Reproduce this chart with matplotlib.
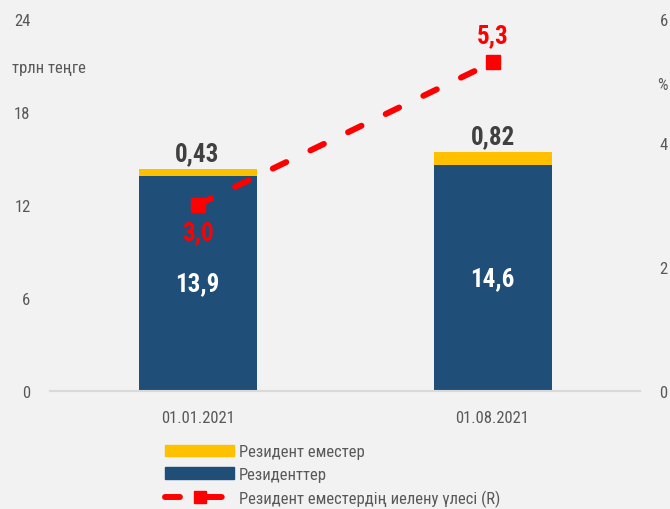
import matplotlib
matplotlib.use('Agg')
import matplotlib.pyplot as plt
import numpy as np
from matplotlib import font_manager
from matplotlib.lines import Line2D
from matplotlib.patches import Patch

# pick a narrow font if one is installed
installed = {f.name for f in font_manager.fontManager.ttflist}
narrow = [n for n in ['Roboto Condensed', 'Liberation Sans Narrow', 'Open Sans Condensed']
          if n in installed]
if narrow:
    plt.rcParams['font.family'] = [narrow[0], 'DejaVu Sans']
else:
    plt.rcParams['font.family'] = ['DejaVu Sans']
    if any(f.name == 'DejaVu Sans' and f.stretch == 'condensed' for f in font_manager.fontManager.ttflist):
        plt.rcParams['font.stretch'] = 'condensed'

dates = ['01.01.2021', '01.08.2021']
residents = [13.9, 14.6]
non_residents = [0.43, 0.82]
share = [3.0, 5.3]

res_labels = ['13,9', '14,6']
nonres_labels = ['0,43', '0,82']
share_labels = ['3,0', '5,3']

bg = '#f2f2f2'
blue = '#1f4e79'
yellow = '#ffc000'
red = '#ff0000'
gray = '#595959'
dash = (0, (2.5, 4.5))

fig = plt.figure(figsize=(6.7, 5.1), dpi=100, facecolor=bg)
ax = fig.add_axes([50 / 670, 1 - 392 / 510, 590 / 670, 372 / 510])
ax.set_facecolor(bg)
x = np.arange(len(dates))

ax.bar(x, residents, width=0.4, color=blue, zorder=2)
ax.bar(x, non_residents, width=0.4, bottom=residents, color=yellow, zorder=2)
ax.set_xlim(-0.5, 1.5)
ax.set_ylim(0, 24)
ax.set_yticks([0, 6, 12, 18, 24])
ax.set_xticks(x)
ax.set_xticklabels(dates)
for s in ['top', 'right', 'left']:
    ax.spines[s].set_visible(False)
ax.spines['bottom'].set_color('#d9d9d9')
ax.spines['bottom'].set_linewidth(1.5)
ax.tick_params(axis='both', length=0, colors=gray, labelsize=12)
ax.tick_params(axis='y', pad=14)
ax.tick_params(axis='x', pad=14)

for i in x:
    ax.text(i, residents[i] / 2, res_labels[i], color='white', fontsize=18,
            fontweight='bold', ha='center', va='center', zorder=4)
    ax.text(i, residents[i] + non_residents[i] + 0.25, nonres_labels[i], color='#404040',
            fontsize=18, fontweight='bold', ha='center', va='bottom', zorder=4)

ax2 = ax.twinx()
ax2.set_ylim(0, 6)
ax2.set_yticks([0, 2, 4, 6])
for s in ax2.spines.values():
    s.set_visible(False)
ax2.tick_params(axis='y', length=0, colors=gray, labelsize=12, pad=14)
ax2.plot(x, share, color=red, linestyle=dash, linewidth=4.3, dash_capstyle='round',
         marker='s', markersize=10, zorder=5)
ax2.text(x[0], share[0] - 0.25, share_labels[0], color=red, fontsize=18,
         fontweight='bold', ha='center', va='top')
ax2.text(x[1], share[1] + 0.25, share_labels[1], color=red, fontsize=18,
         fontweight='bold', ha='center', va='bottom')

fig.text(12 / 670, 1 - 68 / 510, 'трлн теңге', color=gray, fontsize=12, va='center')
fig.text(657 / 670, 1 - 85 / 510, '%', color=gray, fontsize=12, va='center')

handles = [Patch(color=yellow), Patch(color=blue),
           Line2D([0], [0], color=red, linestyle=dash, linewidth=4.3, dash_capstyle='round',
                  marker='s', markersize=9)]
labels = ['Резидент еместер', 'Резиденттер', 'Резидент еместердің иелену үлесі (R)']
fig.legend(handles, labels, loc='upper left', bbox_to_anchor=(157 / 670, 1 - 437 / 510),
           frameon=False, fontsize=12, labelcolor=gray, handlelength=4.1,
           handleheight=0.7, labelspacing=0.45, borderpad=0, handletextpad=0.3)

fig.savefig('out.png', dpi=100, facecolor=bg)
